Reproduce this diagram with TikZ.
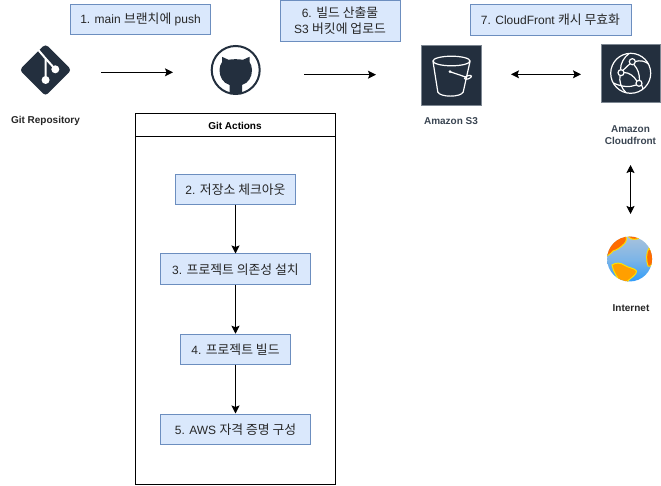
\documentclass[tikz,border=0pt]{standalone}
\usepackage{fontspec}
\setmainfont{Liberation Sans}
\newfontfamily\kr[Scale=1.07]{Noto Sans CJK KR}
\usetikzlibrary{arrows.meta}
\definecolor{awsdark}{HTML}{232F3E}
\definecolor{boxfill}{HTML}{DAE8FC}
\definecolor{boxline}{HTML}{6C8EBF}
\definecolor{iconedge}{HTML}{7D8792}
\definecolor{labelgrey}{HTML}{3A4552}
\definecolor{globetop}{HTML}{A8C2DC}
\definecolor{globebot}{HTML}{2F9CFA}
\tikzset{
  stepbox/.style={draw=boxline,fill=boxfill,line width=0.9pt,inner sep=0pt,align=center,font=\fontsize{12}{16.5}\selectfont,text=black!85},
  conn/.style={line width=1pt,-{Stealth[length=8pt,width=8pt,inset=1.5pt]}},
  biconn/.style={line width=1pt,{Stealth[length=8pt,width=8pt,inset=1.5pt]}-{Stealth[length=8pt,width=8pt,inset=1.5pt]}},
  iconlabel/.style={font=\fontsize{10}{12}\selectfont\bfseries,align=center,inner sep=0pt},
  awslabel/.style={iconlabel,text=labelgrey},
  iconsq/.style={fill=awsdark,draw=iconedge,line width=1pt,inner sep=0pt},
  wline/.style={draw=white,line width=1.2pt},
  landmass/.style={fill=orange!85!red,draw=yellow!80!orange,line width=1pt},
}
\begin{document}
\begin{tikzpicture}[x=1pt,y=-1pt]
\useasboundingbox (0,0) rectangle (661,486);
% step labels on top
\node[stepbox,minimum width=140pt,minimum height=30pt] (s1) at (140.5,19.5) {1. main {\kr 브랜치에} push};
\node[stepbox,minimum width=120pt,minimum height=41pt] (s6) at (340,20.5) {6. {\kr 빌드 산출물}\\S3 {\kr 버킷에 업로드}};
\node[stepbox,minimum width=161pt,minimum height=31pt] (s7) at (550.5,20) {7. CloudFront {\kr 캐시 무효화}};
% Git Actions frame
\node[draw=black,line width=1pt,minimum width=200pt,minimum height=23pt,inner sep=0pt,font=\fontsize{10}{12}\selectfont\bfseries] (gah) at (235,125.5) {\raisebox{-1.5pt}{Git Actions}};
\node[draw=black,line width=1pt,minimum width=200pt,minimum height=347pt,inner sep=0pt] (gab) at (235,310.5) {};
% inner steps
\node[stepbox,minimum width=120.5pt,minimum height=30pt] (s2) at (235.5,189.3) {2. {\kr 저장소 체크아웃}};
\node[stepbox,minimum width=150pt,minimum height=30.5pt] (s3) at (235.5,269.2) {3. {\kr 프로젝트 의존성 설치}};
\node[stepbox,minimum width=110pt,minimum height=30pt] (s4) at (235.5,349.2) {4. {\kr 프로젝트 빌드}};
\node[stepbox,minimum width=150pt,minimum height=30.5pt] (s5) at (235.5,429.2) {5. AWS {\kr 자격 증명 구성}};
\draw[conn] (s2) -- (s3);
\draw[conn] (s3) -- (s4);
\draw[conn] (s4) -- (s5);
% Git icon
\node[minimum size=51pt,inner sep=0pt] (git) at (45.5,70) {};
\fill[awsdark,rounded corners=3.5pt] (45.5,44) -- (71.5,70) -- (45.5,96) -- (19.5,70) -- cycle;
\draw[white,line width=2pt] (37.5,49) -- (45.6,58.5) -- (45.6,80);
\draw[white,line width=2pt] (45.6,58.5) -- (55,69);
\fill[white] (45.6,80) circle (4) (55.3,69.3) circle (4);
% GitHub icon
\node[minimum size=49pt,inner sep=0pt] (hub) at (235.7,70) {};
\draw[awsdark,line width=2pt] (235.7,70) circle (24);
\fill[awsdark] (229.5,93.5) -- (229.5,85) .. controls (223,83) and (219.5,77) .. (219.5,70) .. controls (219.5,67) and (220.5,64) .. (222,62) -- (222,56.8) -- (228.5,59.8) .. controls (232,59) and (239,59) .. (243,59.8) -- (249.5,56.8) -- (249.5,62) .. controls (251,64) and (252,67) .. (252,70) .. controls (252,77) and (248.5,83) .. (242,85) -- (242,93.5) -- cycle;
% S3 icon
\node[iconsq,minimum width=60.5pt,minimum height=60.5pt] (s3ic) at (451.5,75.3) {};
\draw[wline] (451.5,61) ellipse (18.5 and 4.8);
\draw[wline] (433,61.5) -- (437.8,92) .. controls (440,97.5) and (461,97.5) .. (463.2,92) -- (470,61.5);
\draw[wline,rotate around={20:(468,77.3)}] (468,77.3) ellipse (3.6 and 1.6);
\draw[wline] (450,71.7) -- (467,77.5);
\fill[white] (450,71.7) circle (1.5);
% CloudFront icon
\node[iconsq,minimum width=59pt,minimum height=58pt] (cf) at (630.5,74) {};
\draw[wline] (630.7,73.3) circle (20);
\draw[wline] (621,72.7) circle (3);
\draw[wline] (632.3,61.7) circle (3);
\draw[wline] (639,83.3) circle (3);
\draw[wline] (623,70.3) -- (630,63.7);
\draw[wline] (624,72.5) .. controls (629,72.5) and (634,76) .. (636.8,81);
\draw[wline] (635.3,61.5) .. controls (640,60) and (645,61) .. (648.5,64);
\draw[wline] (633.8,64.5) .. controls (638,69) and (639.5,74) .. (639.5,80.2);
\draw[wline] (620,75.7) .. controls (619,81) and (621,88) .. (626,92.7);
\draw[wline] (620.5,69.7) .. controls (620.5,63) and (624,57.5) .. (629,53.5);
\draw[wline] (613.3,83) .. controls (622,87) and (630,87.5) .. (636,85);
\draw[wline] (641.5,85) .. controls (643,88) and (643,89) .. (642.5,89.3);
% Internet globe
\node[minimum size=45pt,inner sep=0pt] (net) at (629.6,259) {};
\begin{scope}
\clip (629.6,259) circle (22.5);
\shade[top color=globetop,bottom color=globebot,middle color=globetop!65!globebot] (607,236) rectangle (653,282);
\path[landmass] (603,258) .. controls (607,256) and (611,254) .. (613,251) .. controls (617,250) and (621,247) .. (624,244) .. controls (627,241) and (627,238) .. (625,234) -- (603,234) -- cycle;
\path[landmass] (629,237.5) .. controls (632,240) and (637,240) .. (640,237.5) -- (636,234) -- (628,234) -- cycle;
\path[landmass] (649,248) .. controls (646,253) and (646,260) .. (648,266) .. controls (651,268) and (654,262) .. (654,255) -- cycle;
\path[fill=orange!75!yellow,draw=yellow!85!orange,line width=1pt] (612,265) .. controls (616,262) and (621,263) .. (624,265) .. controls (628,268) and (635,268) .. (636.5,271) .. controls (637,275) and (631,277) .. (626,283) -- (621,283) .. controls (618,278) and (613,272) .. (612,265) -- cycle;
\end{scope}
% labels
\node[iconlabel,text=black!85] (lgit) at (45.5,120.5) {Git Repository};
\node[awslabel] (ls3) at (451,121.5) {Amazon S3};
\node[awslabel] (lcf) at (630.5,135) {Amazon\\Cloudfront};
\node[iconlabel,text=black!85] (lnet) at (631,308) {Internet};
% connectors
\coordinate (a1) at (101,72.3);
\coordinate (a2) at (173,72.3);
\coordinate (b1) at (304,74.7);
\coordinate (b2) at (376,74.7);
\coordinate (c1) at (511,74.3);
\coordinate (c2) at (581,74.3);
\coordinate (d1) at (630.5,165);
\coordinate (d2) at (630.5,214);
\draw[conn] (a1) -- (a2);
\draw[conn] (b1) -- (b2);
\draw[biconn] (c1) -- (c2);
\draw[biconn] (d1) -- (d2);
\end{tikzpicture}
\end{document}
